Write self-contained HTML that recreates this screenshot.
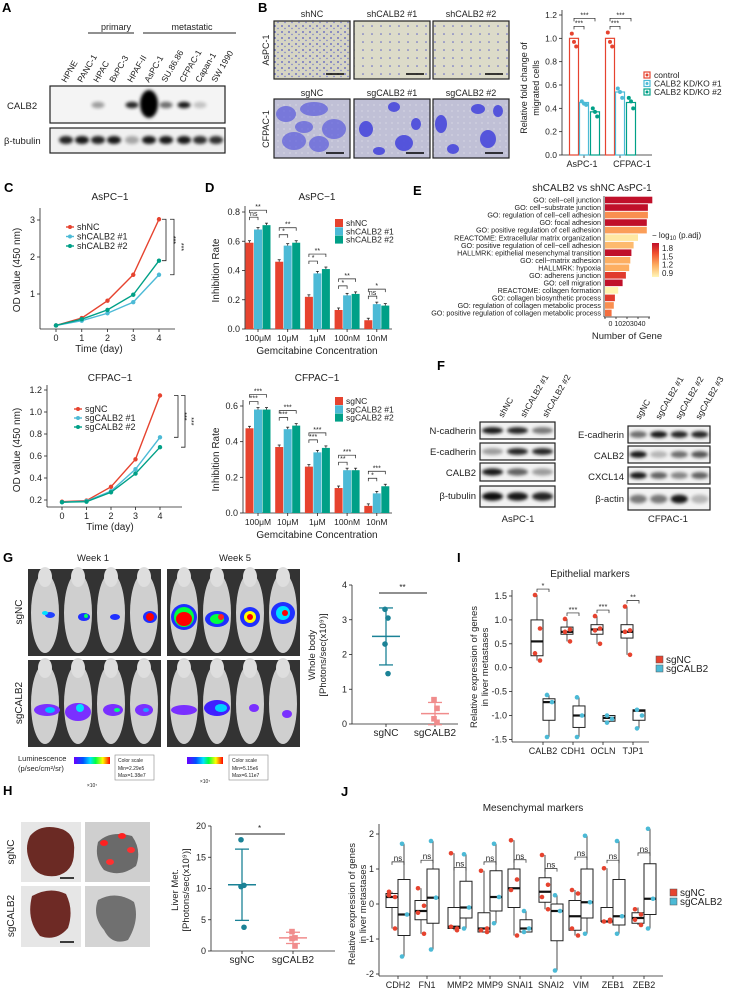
<!DOCTYPE html>
<html><head><meta charset="utf-8">
<style>body{margin:0;background:#fff}svg{display:block;font-family:"Liberation Sans",Arial,sans-serif}</style>
</head><body>
<svg id="fig" width="730" height="991" viewBox="0 0 730 991" xmlns="http://www.w3.org/2000/svg">
<defs>
<filter id="blur" x="-50%" y="-50%" width="200%" height="200%"><feGaussianBlur stdDeviation="1.5"/></filter>
<filter id="blur2" x="-50%" y="-50%" width="200%" height="200%"><feGaussianBlur stdDeviation="2.2"/></filter>
<pattern id="dotsA" width="7" height="6" patternUnits="userSpaceOnUse"><rect width="7" height="6" fill="#d6d5c4"/><circle cx="2" cy="2" r="0.9" fill="#5559c0"/><circle cx="5" cy="4.5" r="0.7" fill="#7074cc"/></pattern>
<pattern id="dotsB" width="9" height="8" patternUnits="userSpaceOnUse"><rect width="9" height="8" fill="#dcdbc9"/><circle cx="3" cy="2" r="0.8" fill="#5f63c4"/></pattern>
<pattern id="tissue" width="6" height="6" patternUnits="userSpaceOnUse"><rect width="6" height="6" fill="#c0c0d6"/><circle cx="2" cy="3" r="0.6" fill="#e4e4ee"/></pattern>
<linearGradient id="rainbow" x1="0" x2="1"><stop offset="0" stop-color="#6a00ff"/><stop offset="0.25" stop-color="#0050ff"/><stop offset="0.45" stop-color="#00e0ff"/><stop offset="0.6" stop-color="#00ff40"/><stop offset="0.8" stop-color="#ffff00"/><stop offset="1" stop-color="#ff0000"/></linearGradient>
<linearGradient id="heatbar" x1="0" y1="1" x2="0" y2="0"><stop offset="0" stop-color="#fff6b8"/><stop offset="0.35" stop-color="#fdae61"/><stop offset="0.7" stop-color="#f0502e"/><stop offset="1" stop-color="#c0102a"/></linearGradient>
</defs>
</svg>
<script>
// ---------- data ----------
const migCats=['AsPC-1','CFPAC-1'];
const migCtrl=[1.0,1.0];
const migKD1=[0.45,0.54];
const migKD2=[0.37,0.45];
const migPtsCtrl=[[1.04,0.97,0.93],[1.05,0.97,0.93]];
const migPtsKD1=[[0.46,0.44,0.43],[0.57,0.54,0.49]];
const migPtsKD2=[[0.40,0.37,0.33],[0.49,0.46,0.40]];

const days=[0,1,2,3,4];
const asShNC=[0.15,0.35,0.82,1.52,3.02];
const asSh1=[0.15,0.28,0.48,0.78,1.52];
const asSh2=[0.15,0.32,0.57,0.98,1.90];
const cfSgNC=[0.185,0.195,0.32,0.57,1.15];
const cfSg1=[0.18,0.19,0.28,0.48,0.77];
const cfSg2=[0.18,0.185,0.27,0.44,0.68];

const concLabels=['100μM','10μM','1μM','100nM','10nM'];
const dAsNC=[0.59,0.46,0.22,0.13,0.06];
const dAs1=[0.68,0.57,0.38,0.23,0.17];
const dAs2=[0.71,0.59,0.41,0.24,0.16];
const dAsSigA=['ns','*','*','*','ns'];
const dAsSigB=['**','**','**','**','*'];
const dCfNC=[0.475,0.37,0.26,0.14,0.04];
const dCf1=[0.58,0.47,0.34,0.24,0.11];
const dCf2=[0.58,0.49,0.365,0.24,0.15];
const dCfSigA=['***','***','***','**','*'];
const dCfSigB=['***','***','***','***','***'];

const goTerms=['GO: cell−cell junction','GO: cell−substrate junction','GO: regulation of cell−cell adhesion','GO: focal adhesion','GO: positive regulation of cell adhesion','REACTOME: Extracellular matrix organization','GO: positive regulation of cell−cell adhesion','HALLMRK: epithelial mesenchymal transition','GO: cell−matrix adhesion','HALLMRK: hypoxia','GO: adherens junction','GO: cell migration','REACTOME: collagen formation','GO: collagen biosynthetic process','GO: regulation of collagen metabolic process','GO: positive regulation of collagen metabolic process'];
const goCounts=[43,39,39,38,38,30,26,24,23,22,19,16,12,9,8,6];
const goLogP=[1.9,1.85,1.3,1.85,1.25,0.95,1.15,1.8,1.2,1.2,1.6,1.85,0.9,1.6,1.3,1.4];

const wbGroups=['sgNC','sgCALB2'];
const wbNC=[3.3,3.05,2.3,1.45];
const wbKO=[0.7,0.45,0.15,0.05];
const wbMean=[2.52,0.3];
const wbSD=[0.82,0.32];
const lvNC=[17.8,10.5,10.3,3.8];
const lvKO=[3.1,2.1,2.0,0.8];
const lvMean=[10.6,2.1];
const lvSD=[5.7,0.9];

const epiGenes=['CALB2','CDH1','OCLN','TJP1'];
const epiNCpts=[[1.52,0.82,0.3,0.15],[1.02,0.8,0.75,0.55],[1.08,0.82,0.78,0.5],[1.28,0.78,0.75,0.27]];
const epiNCbox=[[0.15,0.25,0.55,1.0,1.52],[0.55,0.7,0.75,0.85,1.02],[0.5,0.7,0.8,0.9,1.08],[0.27,0.62,0.75,0.9,1.28]];
const epiKOpts=[[-0.57,-0.72,-1.45],[-0.62,-1.0,-1.45],[-1.0,-1.07,-1.15],[-0.88,-1.0,-1.27]];
const epiKObox=[[-1.45,-1.1,-0.72,-0.65,-0.57],[-1.45,-1.25,-1.0,-0.8,-0.62],[-1.15,-1.12,-1.05,-1.0,-1.0],[-1.27,-1.1,-0.9,-0.88,-0.88]];
const epiSig=['*','***','***','**'];

const mesGenes=['CDH2','FN1','MMP2','MMP9','SNAI1','SNAI2','VIM','ZEB1','ZEB2'];
const mesNCpts=[[0.35,0.2,0.25,-0.7],[0.45,-0.05,-0.25,-0.85],[1.45,-0.7,-0.65,-0.75],[0.95,-0.7,-0.75,-0.8],[1.82,0.7,0.4,-0.9],[1.4,0.55,0.2,-0.15],[0.4,0.3,-0.7,-0.9],[1.02,-0.45,-0.5,-0.5],[-0.15,-0.3,-0.45,-0.6]];
const mesNCbox=[[-0.7,-0.1,0.2,0.3,0.35],[-0.85,-0.45,-0.2,0.1,0.45],[-0.75,-0.7,-0.65,-0.1,1.45],[-0.8,-0.8,-0.7,-0.25,0.95],[-0.9,-0.1,0.45,1.0,1.82],[-0.15,0.05,0.35,0.75,1.4],[-0.9,-0.75,-0.35,0.1,0.4],[-0.5,-0.5,-0.5,-0.1,1.02],[-0.6,-0.55,-0.4,-0.25,-0.1]];
const mesKOpts=[[1.72,-0.3,-1.5],[1.8,0.18,-1.3],[1.42,-0.1,-0.7],[1.72,0.2,-0.55],[-0.2,-0.7,-0.8],[0.25,-0.2,-1.9],[1.95,0.05,-0.85],[1.8,-0.35,-0.85],[2.15,0.15,-0.7]];
const mesKObox=[[-1.5,-0.9,-0.3,0.7,1.72],[-1.3,-0.55,0.18,1.0,1.8],[-0.7,-0.4,-0.1,0.65,1.42],[-0.55,-0.2,0.2,0.95,1.72],[-0.8,-0.8,-0.7,-0.45,-0.2],[-1.9,-1.05,-0.2,0.0,0.25],[-0.85,-0.4,0.05,1.0,1.95],[-0.85,-0.6,-0.35,0.7,1.8],[-0.7,-0.3,0.15,1.15,2.15]];

// ---------- helpers ----------
const NS='http://www.w3.org/2000/svg', S=document.getElementById('fig');
const RED='#e6432f', BLUE='#4cbad6', GREEN='#00a087';
function E(tag,at,nm,p){const e=document.createElementNS(NS,tag);for(const k in at)e.setAttribute(k,at[k]);


(p||S).appendChild(e);return e;}
function T(x,y,s,nm,o){o=o||{};const at={x:x,y:y,'font-size':o.fs||9,'text-anchor':o.a||'middle',fill:o.c||'#222'};if(o.w)at['font-weight']=o.w;if(o.r)at.transform='rotate('+o.r+' '+x+' '+y+')';const e=E('text',at,nm,o.p);e.textContent=s;return e;}
function L(x1,y1,x2,y2,nm,c,w){return E('line',{x1:x1,y1:y1,x2:x2,y2:y2,stroke:c||'#222','stroke-width':w||0.8},nm);}
function R(x,y,w,h,nm,f,s,sw){return E('rect',{x:x,y:y,width:w,height:h,fill:f||'none',stroke:s||'none','stroke-width':sw||1},nm);}
function C(x,y,r,nm,f){return E('circle',{cx:x,cy:y,r:r,fill:f},nm);}
function lin(d0,d1,r0,r1){return v=>r0+(v-d0)*(r1-r0)/(d1-d0);}
function yAxis(x,sy,ticks,y0,y1,nm,fmt,fs){L(x,y0,x,y1,nm+'-line');ticks.forEach(t=>{const y=sy(t);L(x-3,y,x,y,nm+'-tick');T(x-5,y+3,fmt?fmt(t):String(t),nm+'-label',{a:'end',fs:fs||9});});}
function xAxis(y,x0,x1,pos,labels,nm,fs){L(x0,y,x1,y,nm+'-line');pos.forEach((x,i)=>{L(x,y,x,y+3,nm+'-tick');T(x,y+12,labels[i],nm+'-label',{fs:fs||9});});}
function plab(x,y,s){T(x,y,s,'panel-label-'+s.toLowerCase(),{fs:13,w:'bold',a:'start',c:'#000'});}
function bracket(x1,x2,y,lab,nm,fs){E('path',{d:'M'+x1+' '+(y+3)+'V'+y+'H'+x2+'V'+(y+3),fill:'none',stroke:'#222','stroke-width':0.7},nm);T((x1+x2)/2,y-1,lab,nm+'-label',{fs:fs||7});}
const f1=t=>t.toFixed(1);

// ---------- Panel A: western blot ----------
plab(2,12,'A');
T(116,30,'primary','primary-label',{fs:9});L(88,33,134,33,'primary-line','#222',1);
T(192,30,'metastatic','metastatic-label',{fs:9});L(143,33,236,33,'metastatic-line','#222',1);
const lanes=['HPNE','PANC-1','HPAC','BxPC-3','HPAF-II','AsPC-1','SU.86.86','CFPAC-1','Capan-1','SW 1990'];
const laneX=[66,82,98,114,132,149,166,184,200,216];
lanes.forEach((s,i)=>T(laneX[i],83,s,'lane-label',{a:'start',r:-60,fs:8.5}));
R(50,86,175,37,'calb2-blot-frame','#f4f4f4','#222',1.2);
const calbI=[0,0,0.35,0,0.85,1,0.55,0.9,0.2,0];
laneX.forEach((x,i)=>{if(calbI[i]>0){E('ellipse',{cx:x,cy:i==5?104:105,rx:i==5?9:6.5,ry:i==5?14:3.2,fill:'#000',opacity:calbI[i],filter:'url(#blur)'},'calb2-band');}});
R(50,128,175,25,'tubulin-blot-frame','#f0f0f0','#222',1.2);
const tubI=[0.85,0.9,0.85,0.9,0.3,0.9,0.9,0.9,0.8,0.8];
laneX.forEach((x,i)=>E('ellipse',{cx:x,cy:140,rx:7,ry:4,fill:'#000',opacity:tubI[i],filter:'url(#blur)'},'tubulin-band'));
T(7,109,'CALB2','calb2-row-label',{a:'start',fs:9.5});
T(4,144,'β-tubulin','tubulin-row-label',{a:'start',fs:9.5});

// ---------- Panel B: transwell images ----------
plab(258,12,'B');
const bCols=[274,354,433];
['shNC','shCALB2 #1','shCALB2 #2'].forEach((s,i)=>T(bCols[i]+38,17,s,'transwell-title',{fs:9}));
['sgNC','sgCALB2 #1','sgCALB2 #2'].forEach((s,i)=>T(bCols[i]+38,96,s,'transwell-title',{fs:9}));
T(269,50,'AsPC-1','row-label-aspc1',{fs:9,r:-90});
T(269,129,'CFPAC-1','row-label-cfpac1',{fs:9,r:-90});
bCols.forEach((x,i)=>{R(x,21,76,58,'aspc1-transwell-image',i==0?'url(#dotsA)':'url(#dotsB)','#222',1.2);L(x+52,74,x+70,74,'scale-bar','#000',1.5);});
const blobs=[[[12,15,10,8],[40,10,14,7],[60,30,12,10],[20,42,12,9],[45,45,10,8],[30,28,9,6]],[[40,8,6,5],[12,30,7,8],[50,44,9,8],[62,25,5,6],[25,52,6,4]],[[8,25,6,9],[45,10,7,5],[55,40,8,9],[20,50,6,5],[65,12,5,6]]];
bCols.forEach((x,i)=>{R(x,99,76,59,'cfpac1-transwell-image','url(#tissue)','none');blobs[i].forEach(b=>E('ellipse',{cx:x+b[0],cy:99+b[1],rx:b[2],ry:b[3],fill:'#4848dc',opacity:i==0?0.6:0.9},'stained-cell-cluster'));R(x,99,76,59,'image-frame','none','#222',1.2);L(x+52,153,x+70,153,'scale-bar','#000',1.5);});

// ---------- Panel B chart ----------
(function(){const sy=lin(0,1.2,155,15);const gx=[584,620];const off=[-10,0,11];const lx=[582,632];
yAxis(562,sy,[0,0.2,0.4,0.6,0.8,1.0,1.2],10,155,'migration-y-axis',f1,8.5);
L(562,155,652,155,'migration-x-axis');gx.forEach((x,i)=>{L(x,155,x,158,'migration-x-tick');T(lx[i],167,migCats[i],'migration-x-label',{fs:9});});
T(527,88,'Relative fold change of','migration-y-title',{fs:9,r:-90});T(539,88,'migrated cells','migration-y-title',{fs:9,r:-90});
const ser=[[migCtrl,migPtsCtrl,RED],[migKD1,migPtsKD1,BLUE],[migKD2,migPtsKD2,GREEN]];
gx.forEach((x,g)=>{ser.forEach((s,k)=>{const bx=x+off[k];R(bx-4.5,sy(s[0][g]),9,155-sy(s[0][g]),'migration-bar','#fff',s[2],1.2);s[1][g].forEach((p,j)=>C(bx+(j-1)*2.2,sy(p),2,'migration-point',s[2]));});
bracket(x+off[0],x+off[1],sy(migCtrl[g])-12,'***','migration-sig',7);bracket(x+off[0],x+off[2],sy(migCtrl[g])-20,'***','migration-sig',7);});
['control','CALB2 KD/KO #1','CALB2 KD/KO #2'].forEach((s,i)=>{R(644,72+i*8.5,6,6,'migration-legend-key','#fff',ser[i][2],1.2);C(647,75+i*8.5,1.5,'legend-dot',ser[i][2]);T(654,78+i*8.5,s,'migration-legend-label',{a:'start',fs:8.5});});})();

// ---------- Panel C ----------
plab(4,192,'C');
function lineChart(sx,sy,series,cols,nm){series.forEach((d,k)=>{E('polyline',{points:days.map((t,i)=>sx(t)+','+sy(d[i])).join(' '),fill:'none',stroke:cols[k],'stroke-width':1.4},nm+'-line');days.forEach((t,i)=>C(sx(t),sy(d[i]),2.2,nm+'-point',cols[k]));});}
(function(){const sx=lin(0,4,56,159),sy=lin(1,2,294,257);
T(110,200,'AsPC−1','growth-aspc1-title',{fs:10});
yAxis(40,sy,[1,2,3],208,329,'growth-aspc1-y-axis',null,9);
xAxis(329,40,175,days.map(sx),days.map(String),'growth-aspc1-x-axis',9);
T(99,352,'Time (day)','growth-aspc1-x-title',{fs:10});T(20,270,'OD value (450 nm)','growth-aspc1-y-title',{fs:10,r:-90});
lineChart(sx,sy,[asShNC,asSh1,asSh2],[RED,BLUE,GREEN],'growth-aspc1');
['shNC','shCALB2 #1','shCALB2 #2'].forEach((s,i)=>{L(66,227+i*9.5,74,227+i*9.5,'growth-legend-key',[RED,BLUE,GREEN][i],1.4);C(70,227+i*9.5,2,'growth-legend-dot',[RED,BLUE,GREEN][i]);T(77,230+i*9.5,s,'growth-legend-label',{a:'start',fs:9});});
E('path',{d:'M162 '+sy(asShNC[4])+'H166V'+sy(asSh2[4])+'H162',fill:'none',stroke:'#222','stroke-width':0.8},'growth-sig-bracket');
E('path',{d:'M170 '+sy(asShNC[4])+'H174V'+sy(asSh1[4])+'H170',fill:'none',stroke:'#222','stroke-width':0.8},'growth-sig-bracket');
T(171,(sy(asShNC[4])+sy(asSh2[4]))/2,'***','growth-sig-label',{fs:7,r:90});T(179,(sy(asShNC[4])+sy(asSh1[4]))/2,'***','growth-sig-label',{fs:7,r:90});})();
(function(){const sx=lin(0,4,62,160),sy=lin(0.2,1.2,500,390);
T(110,381,'CFPAC−1','growth-cfpac1-title',{fs:10});
yAxis(47,sy,[0.2,0.4,0.6,0.8,1.0,1.2],385,507,'growth-cfpac1-y-axis',f1,9);
xAxis(507,47,182,days.map(sx),days.map(String),'growth-cfpac1-x-axis',9);
T(110,530,'Time (day)','growth-cfpac1-x-title',{fs:10});T(20,450,'OD value (450 nm)','growth-cfpac1-y-title',{fs:10,r:-90});
lineChart(sx,sy,[cfSgNC,cfSg1,cfSg2],[RED,BLUE,GREEN],'growth-cfpac1');
['sgNC','sgCALB2 #1','sgCALB2 #2'].forEach((s,i)=>{L(74,409+i*9,82,409+i*9,'growth-legend-key',[RED,BLUE,GREEN][i],1.4);C(78,409+i*9,2,'growth-legend-dot',[RED,BLUE,GREEN][i]);T(85,412+i*9,s,'growth-legend-label',{a:'start',fs:9});});
E('path',{d:'M174 '+sy(cfSgNC[4])+'H178V'+sy(cfSg1[4])+'H174',fill:'none',stroke:'#222','stroke-width':0.8},'growth-sig-bracket');
E('path',{d:'M181 '+sy(cfSgNC[4])+'H185V'+sy(cfSg2[4])+'H181',fill:'none',stroke:'#222','stroke-width':0.8},'growth-sig-bracket');
T(182,(sy(cfSgNC[4])+sy(cfSg1[4]))/2,'***','growth-sig-label',{fs:7,r:90});T(189,(sy(cfSgNC[4])+sy(cfSg2[4]))/2,'***','growth-sig-label',{fs:7,r:90});})();

// ---------- Panel D ----------
plab(205,192,'D');
function inhib(nm,title,ty,ax,y0,ytop,maxV,ticks,a,b,c,sigA,sigB,leg,ly){const sy=lin(0,maxV,y0,ytop);const gx=concLabels.map((s,i)=>258+i*29.7);
T(317,ty,title,nm+'-title',{fs:10});
yAxis(ax,sy,ticks,ytop-6,y0,nm+'-y-axis',f1,9);
xAxis(y0,ax,392,gx,concLabels,nm+'-x-axis',8.5);
T(317,y0+25,'Gemcitabine Concentration','inhibition-x-title',{fs:10});T(219,(y0+ytop)/2,'Inhibition Rate','inhibition-y-title',{fs:10,r:-90});
gx.forEach((x,i)=>{[[a,RED,-8.5],[b,BLUE,0],[c,GREEN,8.5]].forEach(s=>{const v=s[0][i];R(x+s[2]-4,sy(v),8,y0-sy(v),nm+'-bar',s[1]);L(x+s[2],sy(v)-2,x+s[2],sy(v),'error-bar');L(x+s[2]-1.5,sy(v)-2,x+s[2]+1.5,sy(v)-2,'error-cap');});
const top=sy(Math.max(b[i],c[i]));bracket(x-8.5,x,top-8,sigA[i],nm+'-sig',7);bracket(x-8.5,x+8.5,top-15,sigB[i],nm+'-sig',7);});
leg.forEach((s,i)=>{R(335,ly+i*8.3,8,8,'inhibition-legend-key',[RED,BLUE,GREEN][i]);T(346,ly+7+i*8.3,s,'inhibition-legend-label',{a:'start',fs:8.5});});}
inhib('inhibition-aspc1','AsPC−1',200,245,329,212,0.8,[0,0.2,0.4,0.6,0.8],dAsNC,dAs1,dAs2,dAsSigA,dAsSigB,['shNC','shCALB2 #1','shCALB2 #2'],219);
inhib('inhibition-cfpac1','CFPAC−1',381,243,513,406,0.6,[0,0.2,0.4,0.6],dCfNC,dCf1,dCf2,dCfSigA,dCfSigB,['sgNC','sgCALB2 #1','sgCALB2 #2'],397);

// ---------- Panel E ----------
plab(413,195,'E');
T(592,191,'shCALB2 vs shNC AsPC-1','enrichment-title',{fs:10});
(function(){const sx=lin(0,40,605,649);const rows=goTerms.map((s,i)=>200+i*7.53);
function col(v){const stops=[[0.9,[255,244,176]],[1.2,[253,174,97]],[1.5,[240,80,46]],[1.8,[192,16,42]]];if(v<=0.9)return 'rgb(255,244,176)';if(v>=1.8)return 'rgb(192,16,42)';for(let i=0;i<3;i++){if(v<=stops[i+1][0]){const t=(v-stops[i][0])/(stops[i+1][0]-stops[i][0]);const c=stops[i][1].map((a,k)=>Math.round(a+(stops[i+1][1][k]-a)*t));return 'rgb('+c.join(',')+')';}}}
goTerms.forEach((s,i)=>{T(601,rows[i]+2.6,s,'enrichment-term-label',{a:'end',fs:7.2});R(605,rows[i]-3.3,sx(goCounts[i])-605,6.6,'enrichment-bar',col(goLogP[i]));});
L(604,196,604,317,'enrichment-y-axis');L(604,317,650,317,'enrichment-x-axis');
[0,10,20,30,40].forEach(t=>{L(sx(t),317,sx(t),319,'enrichment-x-tick');});
T(627,326,'0 10203040','enrichment-x-tick-labels',{fs:7});
T(627,339,'Number of Gene','enrichment-x-title',{fs:9.5});
const lt=T(652,238,'− log','colorbar-title',{a:'start',fs:8});const sub=E('tspan',{'font-size':6,dy:2},'colorbar-title-subscript',lt);sub.textContent='10';const rest=E('tspan',{dy:-2},'colorbar-title-rest',lt);rest.textContent=' (p.adj)';
R(652,243,7,34,'colorbar','url(#heatbar)');
['1.8','1.5','1.2','0.9'].forEach((s,i)=>T(662,251+i*8.3,s,'colorbar-label',{a:'start',fs:8}));})();

// ---------- Panel F ----------
plab(437,370,'F');
function blot(x,y,w,h,bands,nm){R(x,y,w,h,nm+'-frame','#f2f2f2','#222',1.2);bands.forEach((o,i)=>E('ellipse',{cx:x+w*(i+0.5)/bands.length,cy:y+h/2,rx:w/bands.length*0.42,ry:h*0.2,fill:'#000',opacity:o,filter:'url(#blur)'},nm+'-band'));}
blot(480,422,75,17,[0.9,0.85,0.5],'n-cadherin-blot');blot(480,443,75,17,[0.35,0.85,0.85],'e-cadherin-blot');blot(480,463,75,18,[0.9,0.6,0.35],'calb2-blot');blot(480,486,75,21,[0.95,0.9,0.85],'tubulin-blot');
T(476,434,'N-cadherin','blot-row-label',{a:'end',fs:9.5});T(476,455,'E-cadherin','blot-row-label',{a:'end',fs:9.5});T(476,476,'CALB2','blot-row-label',{a:'end',fs:9.5});T(476,499,'β-tubulin','blot-row-label',{a:'end',fs:9.5});
['shNC','shCALB2 #1','shCALB2 #2'].forEach((s,i)=>T(503+i*22,418,s,'blot-lane-label',{a:'start',r:-60,fs:8.5}));
T(518,522,'AsPC-1','blot-cell-line-label',{fs:9.5});
blot(628,426,82,17,[0.55,0.9,0.85,0.85],'e-cadherin-blot');blot(628,446,82,17,[0.9,0.25,0.55,0.65],'calb2-blot');blot(628,467,82,17,[0.9,0.6,0.45,0.6],'cxcl14-blot');blot(628,488,82,22,[0.5,0.5,0.9,0.25],'actin-blot');
T(624,438,'E-cadherin','blot-row-label',{a:'end',fs:9.5});T(624,459,'CALB2','blot-row-label',{a:'end',fs:9.5});T(624,480,'CXCL14','blot-row-label',{a:'end',fs:9.5});T(624,502,'β-actin','blot-row-label',{a:'end',fs:9.5});
['sgNC','sgCALB2 #1','sgCALB2 #2','sgCALB2 #3'].forEach((s,i)=>T(640+i*20,420,s,'blot-lane-label',{a:'start',r:-60,fs:8.5}));
T(668,522,'CFPAC-1','blot-cell-line-label',{fs:9.5});

// ---------- Panel G: imaging ----------
plab(3,562,'G');
T(93,561,'Week 1','week1-title',{fs:9.5});T(235,561,'Week 5','week5-title',{fs:9.5});
T(22,612,'sgNC','g-row-label',{fs:10,r:-90});T(22,703,'sgCALB2','g-row-label',{fs:10,r:-90});
const heat=[[[[5,-2,5,3,'#2040ff'],[0,-4,3,2,'#00e0ff']],[[6,0,6,4,'#2030ff'],[8,-1,2,2,'#00ff60']],[[4,0,5,3,'#2030ff']],[[6,0,7,6,'#2030ff'],[6,0,4,4,'#ff0000']]],
[[[0,0,13,13,'#2030ff'],[0,0,10,10,'#00ff40'],[0,2,8,7,'#ff0000']],[[0,2,12,8,'#2030ff'],[0,2,7,5,'#00ff40'],[4,0,3,3,'#ff2020']],[[0,0,10,10,'#2030ff'],[0,0,6,6,'#ffff00'],[0,0,3,3,'#ff0000']],[[0,-4,12,11,'#2030ff'],[0,-4,7,7,'#00e0ff'],[2,-4,3,3,'#ff0000']]],
[[[2,2,13,6,'#7a30ff'],[5,2,5,3,'#00c0ff']],[[0,4,13,9,'#7a30ff'],[2,0,4,4,'#00e0ff']],[[2,2,10,6,'#7a30ff'],[6,2,3,2,'#00ff80']],[[0,2,9,6,'#7a30ff'],[2,2,3,2,'#20a0ff']]],
[[[0,2,13,5,'#7a30ff']],[[0,0,13,8,'#4020ff'],[4,0,6,4,'#00d0ff']],[[4,0,5,4,'#7a30ff']],[[4,6,5,4,'#7a30ff']]]];
[[28,569],[167,569],[28,660],[167,660]].forEach((p,k)=>{R(p[0],p[1],133,87,'ivis-image','#333');for(let i=0;i<4;i++){const cx=p[0]+17+i*33;E('ellipse',{cx:cx,cy:p[1]+44,rx:14,ry:40,fill:'#cfcfcf'},'mouse');E('ellipse',{cx:cx,cy:p[1]+8,rx:7,ry:10,fill:'#dedede'},'mouse-head');heat[k][i].forEach(h=>E('ellipse',{cx:cx+h[0],cy:p[1]+48+h[1],rx:h[2],ry:h[3],fill:h[4]},'luminescence-signal'));}});
T(18,761,'Luminescence','luminescence-label',{a:'start',fs:7.5});T(18,771,'(p/sec/cm²/sr)','luminescence-unit',{a:'start',fs:7.5});
R(74,757,36,7,'color-scale-bar','url(#rainbow)');T(92,787,'×10⁷','scale-multiplier',{fs:5});
R(115,755,39,25,'color-scale-box','#fff','#888',0.6);T(118,762,'Color scale','color-scale-text',{a:'start',fs:5});T(118,770,'Min=2.29e5','color-scale-text',{a:'start',fs:5});T(118,777,'Max=1.38e7','color-scale-text',{a:'start',fs:5});
R(187,757,36,7,'color-scale-bar','url(#rainbow)');T(205,783,'×10⁷','scale-multiplier',{fs:5});
R(229,755,39,25,'color-scale-box','#fff','#888',0.6);T(232,762,'Color scale','color-scale-text',{a:'start',fs:5});T(232,770,'Min=5.15e6','color-scale-text',{a:'start',fs:5});T(232,777,'Max=6.11e7','color-scale-text',{a:'start',fs:5});

function dotPlot(sy,ax,xEnd,y0,ytop,ticks,gx,nc,ko,mean,sd,nm,sig){const TEAL='#1b8296',PINK='#f08c8c';
yAxis(ax,sy,ticks,ytop,y0,nm+'-y-axis',null,9);xAxis(y0,ax,xEnd,gx,wbGroups,nm+'-x-axis',10);
[[nc,TEAL,0],[ko,PINK,1]].forEach(s=>{const x=gx[s[2]];L(x-14,sy(mean[s[2]]),x+14,sy(mean[s[2]]),nm+'-mean',s[1],1.5);L(x,sy(mean[s[2]]-sd[s[2]]),x,sy(mean[s[2]]+sd[s[2]]),nm+'-sd',s[1],1.3);[-1,1].forEach(d=>L(x-7,sy(mean[s[2]]+d*sd[s[2]]),x+7,sy(mean[s[2]]+d*sd[s[2]]),nm+'-sd-cap',s[1],1.3));
s[0].forEach((v,j)=>{const xx=x+(j%2?2:-1);if(s[2]==0)C(xx,sy(v),2.8,nm+'-point',s[1]);else R(xx-2.8,sy(v)-2.8,5.6,5.6,nm+'-point',s[1]);});});
L(gx[0]-7,ytop+8,gx[1]-8,ytop+8,nm+'-sig-line','#222',1);T((gx[0]+gx[1])/2-8,ytop+5,sig,nm+'-sig-label',{fs:8});}
(function(){const sy=lin(0,4,724,585);dotPlot(sy,352,458,724,585,[0,1,2,3,4],[386,435],wbNC,wbKO,wbMean,wbSD,'whole-body','**');
T(315,655,'Whole body','whole-body-y-title',{fs:9.5,r:-90});T(326,655,'[Photons/sec(x10⁹)]','whole-body-y-title',{fs:9.5,r:-90});})();

// ---------- Panel H ----------
plab(3,795,'H');
T(14,852,'sgNC','h-row-label',{fs:10,r:-90});T(14,916,'sgCALB2','h-row-label',{fs:10,r:-90});
R(21,822,60,60,'liver-photo','#e6e6e6');E('path',{d:'M30 836 Q40 824 58 828 Q76 832 74 852 Q74 872 56 876 Q36 878 30 862 Q24 848 30 836Z',fill:'#6b2a24'},'liver-tissue');
R(85,822,65,60,'liver-ivis','#cfcfcf');E('path',{d:'M98 842 Q110 830 132 836 Q142 850 136 866 Q120 878 104 870 Q94 858 98 842Z',fill:'#6a6a6a'},'liver-gray');
[[104,843,'#ff2020'],[122,836,'#ff2020'],[131,850,'#ff3030'],[110,862,'#ff3030']].forEach(p=>E('ellipse',{cx:p[0],cy:p[1],rx:4,ry:3,fill:p[2]},'liver-signal'));
R(21,886,60,61,'liver-photo','#e6e6e6');E('path',{d:'M32 896 Q50 886 66 894 Q74 910 68 928 Q56 942 40 936 Q26 920 32 896Z',fill:'#6e2a25'},'liver-tissue');
R(85,886,65,61,'liver-ivis','#d4d4d4');E('path',{d:'M98 900 Q116 890 134 902 Q140 920 128 940 Q112 946 104 930 Q92 916 98 900Z',fill:'#707070'},'liver-gray');
L(60,878,74,878,'scale-bar','#000',1.5);L(60,942,74,942,'scale-bar','#000',1.5);
(function(){const sy=lin(0,20,951,826);dotPlot(sy,211,335,951,826,[0,5,10,15,20],[242,293],lvNC,lvKO,lvMean,lvSD,'liver-met','*');
T(178,890,'Liver Met.','liver-y-title',{fs:9.5,r:-90});T(189,890,'[Photons/sec(x10⁹)]','liver-y-title',{fs:9.5,r:-90});})();

// ---------- box helpers ----------
function box(x,w,st,sy,col,nm){L(x,sy(st[0]),x,sy(st[1]),nm+'-whisker','#222',0.8);L(x,sy(st[3]),x,sy(st[4]),nm+'-whisker','#222',0.8);R(x-w/2,sy(st[3]),w,sy(st[1])-sy(st[3]),nm+'-box','none','#222',1);L(x-w/2,sy(st[2]),x+w/2,sy(st[2]),nm+'-median','#111',2.2);}
function legend2(x,y,nm){[['sgNC',RED],['sgCALB2',BLUE]].forEach((s,i)=>{R(x,y+i*9-4,7,7,nm+'-key',s[1],'#555',0.5);T(x+10,y+i*9+3,s[0],nm+'-label',{a:'start',fs:10});});}

// ---------- Panel I ----------
plab(457,562,'I');
T(590,577,'Epithelial markers','epithelial-title',{fs:10});
(function(){const sy=lin(0,1.5,667.7,596);const gx=epiGenes.map((g,i)=>543+i*30);
yAxis(512,sy,[-1.5,-1.0,-0.5,0,0.5,1.0,1.5],590,742,'epithelial-y-axis',f1,9);
xAxis(742,512,649,gx,epiGenes,'epithelial-x-axis',9);
T(477,667,'Relative expression of genes','epithelial-y-title',{fs:9.5,r:-90});T(488,667,'in liver metastases','epithelial-y-title',{fs:9.5,r:-90});
gx.forEach((x,i)=>{box(x-6,12,epiNCbox[i],sy,RED,'epithelial-sgnc');box(x+6,12,epiKObox[i],sy,BLUE,'epithelial-sgcalb2');
epiNCpts[i].forEach((v,j)=>C(x-6+(j%2?3:-2),sy(v),2.3,'epithelial-sgnc-point',RED));epiKOpts[i].forEach((v,j)=>C(x+6+(j%2?3:-2),sy(v),2.3,'epithelial-sgcalb2-point',BLUE));
bracket(x-6,x+6,sy(epiNCbox[i][4])-6,epiSig[i],'epithelial-sig',7.5);});
legend2(656,660,'epithelial-legend');})();

// ---------- Panel J ----------
plab(341,796,'J');
T(533,811,'Mesenchymal markers','mesenchymal-title',{fs:10});
(function(){const sy=lin(0,2,904,834);const gx=[398,427,460,490,520,551,581,613,644];
yAxis(379,sy,[-2,-1,0,1,2],824,976,'mesenchymal-y-axis',null,9);
xAxis(976,379,663,gx,mesGenes,'mesenchymal-x-axis',9);
T(355,904,'Relative expression of genes','mesenchymal-y-title',{fs:9.5,r:-90});T(366,904,'in liver metastases','mesenchymal-y-title',{fs:9.5,r:-90});
gx.forEach((x,i)=>{box(x-6,12,mesNCbox[i],sy,RED,'mesenchymal-sgnc');box(x+6,12,mesKObox[i],sy,BLUE,'mesenchymal-sgcalb2');
mesNCpts[i].forEach((v,j)=>C(x-6+(j%2?3:-3),sy(v),2.3,'mesenchymal-sgnc-point',RED));mesKOpts[i].forEach((v,j)=>C(x+6+(j%2?3:-2),sy(v),2.3,'mesenchymal-sgcalb2-point',BLUE));
const top=Math.max(mesNCbox[i][3],mesKObox[i][3]);bracket(x-6,x+6,sy(Math.max(top,mesNCbox[i][4]*0.6,mesKObox[i][4]*0.6))-6,'ns','mesenchymal-sig',8);});
legend2(670,893,'mesenchymal-legend');})();
</script>
</body></html>
